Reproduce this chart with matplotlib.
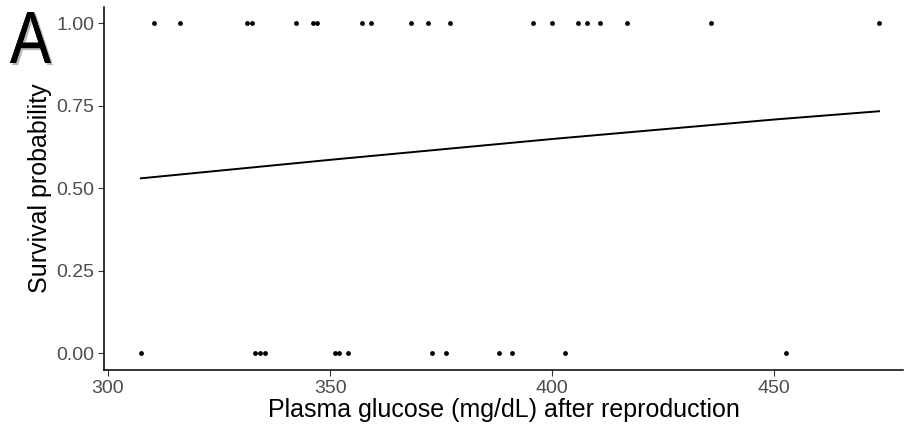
import numpy as np
import matplotlib
matplotlib.use("Agg")
import matplotlib.pyplot as plt
import matplotlib.patheffects as pe
from matplotlib.textpath import TextPath
from matplotlib.patches import PathPatch
from matplotlib.font_manager import FontProperties
from matplotlib.transforms import Affine2D, IdentityTransform

plt.rcParams['font.family'] = ['Liberation Sans', 'DejaVu Sans']

# Data
glucose_survived = [310.4, 316.2, 331.2, 332.4, 342.3, 346.2, 347.1, 357.1, 359.2,
                    368.2, 372.1, 377.0, 395.8, 399.9, 405.9, 407.9, 410.8, 416.8,
                    435.7, 473.6]
glucose_died = [307.4, 333.2, 334.2, 335.3, 351.1, 352.1, 354.1, 373.0, 376.0,
                388.0, 391.0, 402.9, 452.7]
# fitted survival probability curve
fit_glucose = [307.4, 350.0, 400.0, 450.0, 473.6]
fit_probability = [0.530, 0.586, 0.649, 0.708, 0.733]

x_ticks = [300, 350, 400, 450]
y_ticks = [0.00, 0.25, 0.50, 0.75, 1.00]
y_ticklabels = ["0.00", "0.25", "0.50", "0.75", "1.00"]

W, H = 910, 437
fig = plt.figure(figsize=(W / 100, H / 100), dpi=100)
ax = fig.add_axes([104/W, 1 - 370/H, (903 - 104)/W, (370 - 6.5)/H])

ax.scatter(glucose_survived, [1.0] * len(glucose_survived), s=12, color='black',
           zorder=3, linewidths=0)
ax.scatter(glucose_died, [0.0] * len(glucose_died), s=12, color='black',
           zorder=3, linewidths=0)
ax.plot(fit_glucose, fit_probability, color='black', lw=1.4)

ax.set_xlim(299.1, 479.0)
ax.set_ylim(-0.05, 1.05)
ax.set_xticks(x_ticks)
ax.set_yticks(y_ticks)
ax.set_yticklabels(y_ticklabels)
for s in ['top', 'right']:
    ax.spines[s].set_visible(False)
for s in ['left', 'bottom']:
    ax.spines[s].set_linewidth(1.1)
ax.tick_params(axis='both', labelsize=14, labelcolor='#4D4D4D', color='#333333',
               length=4.5, width=0.8, pad=2.5)
ax.set_xlabel("Plasma glucose (mg/dL) after reproduction", fontsize=18, labelpad=1)
ax.set_ylabel("Survival probability", fontsize=18, labelpad=3)

# Panel letter "A" with soft shadow
tp = TextPath((0, 0), "A", size=100, prop=FontProperties(family='Liberation Sans'))
ext = tp.get_extents()
box_l, box_r, box_top, box_bot = 10, 51, 12, 63
sx = (box_r - box_l) / ext.width
sy = (box_bot - box_top) / ext.height
tr = (Affine2D().translate(-ext.x0, -ext.y0).scale(sx, sy)
      .translate(box_l, H - box_bot) + IdentityTransform())
patch = PathPatch(tp, facecolor='black', edgecolor='none', transform=tr,
                  path_effects=[pe.withSimplePatchShadow(offset=(1.5, -1.5),
                                                         shadow_rgbFace='#888888', alpha=0.6),
                                pe.Normal()])
fig.patches.append(patch)
patch.set_figure(fig)

fig.savefig("out.png", dpi=100)
